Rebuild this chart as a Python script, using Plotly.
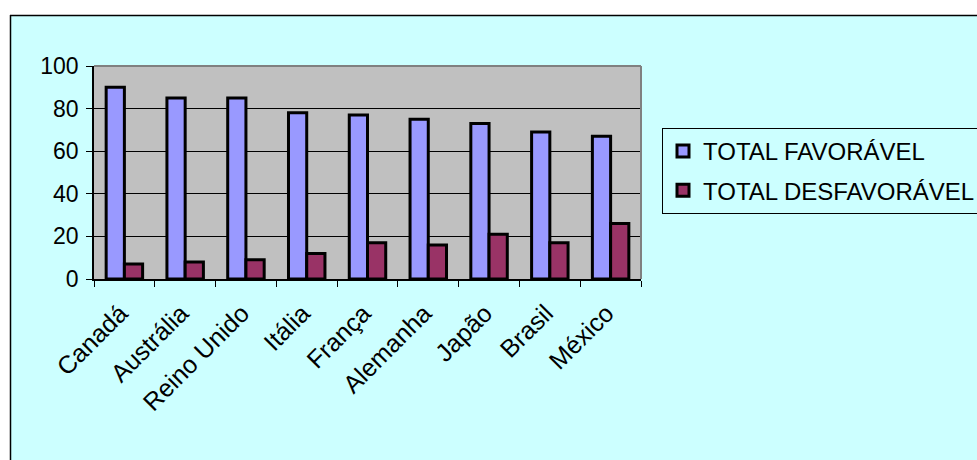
import plotly.graph_objects as go

categories = ["Canadá", "Austrália", "Reino Unido", "Itália", "França",
              "Alemanha", "Japão", "Brasil", "México"]
favoravel = [90, 85, 85, 78, 77, 75, 73, 69, 67]
desfavoravel = [7, 8, 9, 12, 17, 16, 21, 17, 26]
series_names = ["TOTAL FAVORÁVEL", "TOTAL DESFAVORÁVEL"]
y_ticks = [0, 20, 40, 60, 80, 100]

FONT = "Liberation Sans, Arial, sans-serif"
W, H = 977, 460
L, R, T, B = 94, 641, 66, 279

fig = go.Figure()
fig.add_trace(go.Bar(x=categories, y=favoravel, name=series_names[0],
                     marker=dict(color="#9999FF", line=dict(color="black", width=3)),
                     legendgroup="a"))
fig.add_trace(go.Bar(x=categories, y=desfavoravel, name=series_names[1],
                     marker=dict(color="#993366", line=dict(color="black", width=3)),
                     legendgroup="b"))

pw, ph = R - L, B - T
def px(x):
    return (x - L) / pw
def py(y):
    return (B - y) / ph

shapes = [
    dict(type="rect", xref="paper", yref="paper", x0=px(0), x1=px(W + 10), y0=py(-5), y1=py(15),
         fillcolor="white", line=dict(width=0), layer="above"),
    dict(type="rect", xref="paper", yref="paper", x0=px(-5), x1=px(10), y0=py(H + 10), y1=py(0),
         fillcolor="white", line=dict(width=0), layer="above"),
    dict(type="line", xref="paper", yref="paper", x0=px(10), x1=px(W + 5), y0=py(15.5), y1=py(15.5),
         line=dict(color="black", width=1.5), layer="above"),
    dict(type="line", xref="paper", yref="paper", x0=px(10.5), x1=px(10.5), y0=py(15), y1=py(H + 5),
         line=dict(color="black", width=1.5), layer="above"),
    dict(type="line", xref="paper", yref="paper", x0=0, x1=1, y0=1, y1=1,
         line=dict(color="#808080", width=2), layer="above"),
    dict(type="line", xref="paper", yref="paper", x0=1, x1=1, y0=0, y1=1,
         line=dict(color="#808080", width=2), layer="above"),
]

fig.update_layout(
    width=W, height=H,
    margin=dict(l=L, r=W - R, t=T, b=H - B, pad=0, autoexpand=False),
    paper_bgcolor="#CCFFFF",
    plot_bgcolor="#C0C0C0",
    barmode="group", bargap=0.4, bargroupgap=0,
    font=dict(family=FONT, size=23, color="black"),
    showlegend=True,
    legend=dict(x=px(662), y=py(128), xanchor="left", yanchor="top",
                bgcolor="#CCFFFF", bordercolor="black", borderwidth=1,
                font=dict(family=FONT, size=24, color="black"),
                tracegroupgap=5, itemclick=False),
    shapes=shapes,
    xaxis=dict(tickangle=-45, showline=True, linecolor="black", linewidth=1.5,
               ticks="outside", tickson="boundaries", ticklen=6, tickcolor="black",
               showgrid=False, tickfont=dict(family=FONT, size=25, color="black"),
               ticklabelstandoff=8, ticklabelshift=-4),
    yaxis=dict(range=[0, 100], tickvals=y_ticks, showline=True, linecolor="black", linewidth=1.5,
               ticks="outside", ticklen=6, tickcolor="black",
               showgrid=True, gridcolor="black", gridwidth=1, zeroline=False,
               tickfont=dict(family=FONT, size=23, color="black"),
               ticklabelstandoff=3),
)

fig.write_html("out.html")
